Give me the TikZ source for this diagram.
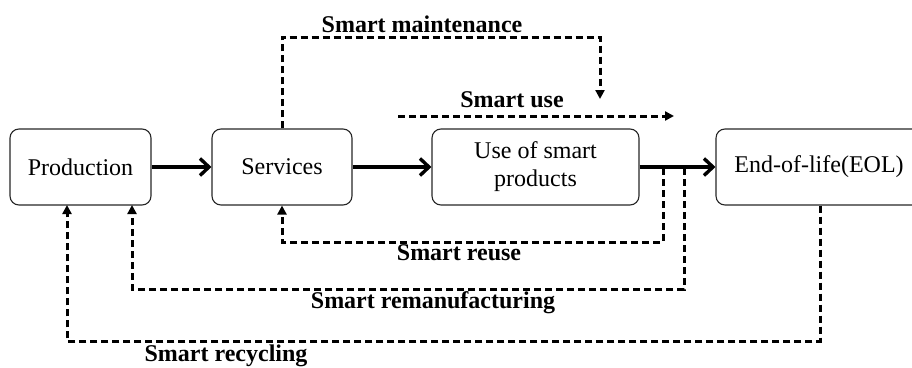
\documentclass[tikz,border=0pt]{standalone}
\usepackage{fontspec}
\setmainfont{Liberation Serif}
\usetikzlibrary{arrows.meta,calc}
\begin{document}
\begin{tikzpicture}[x=1pt,y=-1pt,
  box/.style={draw=black!85,line width=1.1pt,rounded corners=9pt,minimum height=76pt,inner sep=0pt,align=center,font=\fontsize{24}{28}\selectfont},
  flow/.style={line width=3.4pt,-{Straight Barb[length=9pt,width=17pt,line width=3.4pt]}},
  dsh/.style={line width=3pt,dash pattern=on 7pt off 4pt},
  darr/.style={dsh,-{Triangle[length=9pt,width=9pt]}},
  lbl/.style={font=\bfseries\fontsize{24}{28}\selectfont,inner sep=0pt,anchor=base}]
\useasboundingbox (0,0) rectangle (912,367);
\begin{scope}
\clip (0,0) rectangle (912,367);
\node[box,minimum width=141pt] (prod) at (80.5,167) {Production};
\node[box,minimum width=140pt] (serv) at (282,167) {Services};
\node[box,minimum width=207pt] (use) at (535.5,167) {Use of smart\\products};
\node[box,minimum width=206pt] (eol) at (819,167) {End-of-life(EOL)};

\draw[flow] (prod.east) -- (serv.west);
\draw[flow] (serv.east) -- (use.west);
\draw[flow] (use.east) -- (eol.west);

% smart maintenance
\coordinate (m1) at (600,37);
\coordinate (m2) at (600,99);
\draw[darr] (serv.north) |- (m1) -- (m2);
\node[lbl] (lm) at (422,32) {Smart maintenance};

% smart use
\coordinate (u1) at (398,116);
\coordinate (u2) at (674,116);
\draw[darr] (u1) -- (u2);
\node[lbl] (lu) at (512,107) {Smart use};

% smart reuse
\coordinate (r0) at (663,168);
\coordinate (r1) at (663,242);
\draw[darr] (r0) -- (r1) -| (serv.south);
\node[lbl] (lr) at (459,260) {Smart reuse};

% smart remanufacturing
\coordinate (f0) at (684,168);
\coordinate (f1) at (684,289);
\coordinate (f2) at (132,205);
\draw[darr] (f0) -- (f1) -| (f2);
\node[lbl] (lf) at (433,308) {Smart remanufacturing};

% smart recycling
\coordinate (c1) at (820,341);
\coordinate (c2) at (67,205);
\draw[darr] (eol.south -| c1) -- (c1) -| (c2);
\node[lbl] (lc) at (226,361) {Smart recycling};
\end{scope}
\end{tikzpicture}
\end{document}
